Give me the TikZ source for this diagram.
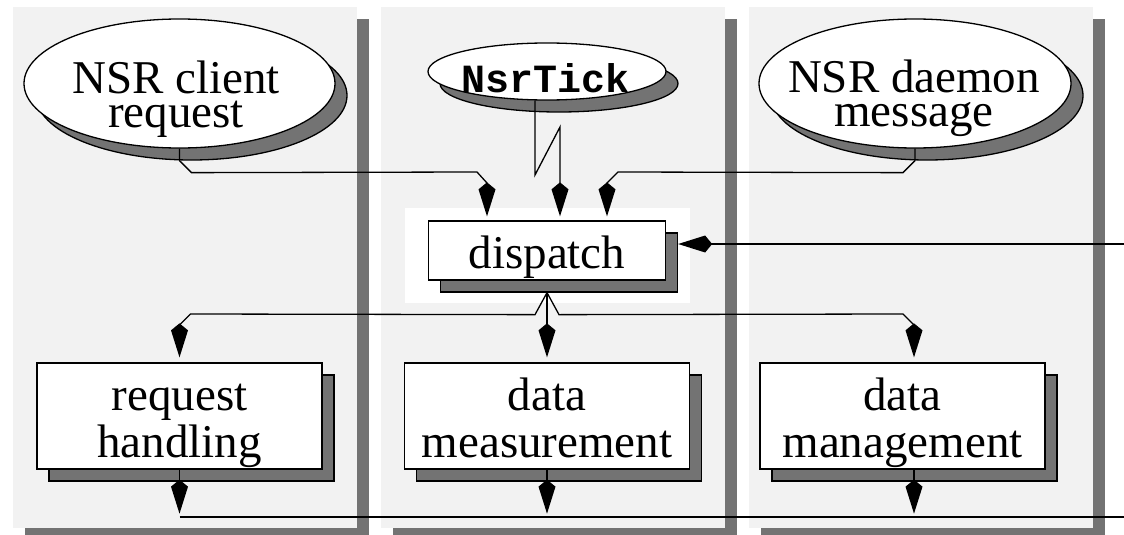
\documentclass[tikz,border=0pt]{standalone}
\usepackage{fontspec}
\setmainfont{Liberation Serif}
\newfontfamily\codefont{Liberation Mono}
\usetikzlibrary{shapes.geometric,arrows.meta,shadows}
\definecolor{panelgray}{HTML}{F2F2F2}
\definecolor{shgray}{HTML}{737373}
\pgfdeclarearrow{
  name = BigKite,
  setup code = {
    \pgfarrowssettipend{0pt}
    \pgfarrowssetbackend{-34pt}
    \pgfarrowssetlineend{-28pt}
    \pgfarrowshullpoint{0pt}{0pt}
    \pgfarrowshullpoint{-34pt}{0pt}
  },
  drawing code = {
    \pgfpathmoveto{\pgfpoint{0pt}{0pt}}
    \pgfpathlineto{\pgfpoint{-27pt}{8.5pt}}
    \pgfpathlineto{\pgfpoint{-34pt}{0pt}}
    \pgfpathlineto{\pgfpoint{-27pt}{-8.5pt}}
    \pgfpathclose
    \pgfusepathqfill
  }
}
\begin{document}
\begin{tikzpicture}[x=1pt,y=-1pt,line width=1.3pt,
  shadowed/.style={general shadow={shadow xshift=12pt,shadow yshift=-12pt,fill=shgray,draw=black,line width=1.3pt}},
  evt/.style={ellipse,draw=black,fill=white,inner sep=0pt,shadowed},
  proc/.style={rectangle,draw=black,fill=white,inner sep=0pt,minimum width=285pt,minimum height=106pt,shadowed,align=center,font=\fontsize{47}{47}\selectfont,text height=82pt,text depth=0pt},
  etext/.style={inner sep=0pt,align=center,font=\fontsize{47}{34}\selectfont},
  ticktext/.style={inner sep=0pt,font=\fontsize{40}{40}\codefont\bfseries},
  flow/.style={-BigKite,line width=1.3pt},
  wire/.style={line width=1.3pt}
]
\useasboundingbox (0,0) rectangle (1124,535);
\fill[white] (0,0) rectangle (1124,535);
% swimlane panels
\fill[shgray] (25,19) rectangle (369,540);
\fill[panelgray] (13,7) rectangle (357,528);
\fill[shgray] (393,19) rectangle (737,540);
\fill[panelgray] (381,7) rectangle (725,528);
\fill[shgray] (761,19) rectangle (1105,540);
\fill[panelgray] (749,7) rectangle (1093,528);
\fill[white] (405,208) rectangle (690,303);

% event ellipses
\node[evt,minimum width=311pt,minimum height=129pt] (e1) at (179.5,83.5) {};
\node[etext] (e1t) at (176,99) {NSR client\\request};
\node[evt,minimum width=312pt,minimum height=129pt] (e3) at (915,83.5) {};
\node[etext] (e3t) at (914,98) {NSR daemon\\message};
\node[evt,minimum width=238pt,minimum height=57pt] (tick) at (547,71.5) {};
\node[ticktext] (tickt) at (545.5,78) {NsrTick};

% processes
\node[proc,minimum width=237pt,minimum height=59pt,text height=36pt,text depth=0pt] (disp) at (547,250.5) {dispatch};
\node[proc] (rh) at (179.5,416) {request\\handling};
\node[proc] (dm) at (547,416) {data\\measurement};
\node[proc] (dmg) at (902.5,416) {data\\management};

% inputs to dispatch
\draw[flow] (e1.south) -- ++(0,12) -- ++(12,12) -- (477,172) -- ++(10,11) -- ([xshift=-60pt,yshift=4pt]disp.north);
\draw[flow] ([xshift=-12pt]tick.south) -- (535,175) -- (560,127) -- ([xshift=13pt,yshift=4pt]disp.north);
\draw[flow] (e3.south) -- ++(0,12) -- ++(-12,12) -- (618,172) -- ++(-11,11) -- ([xshift=60pt,yshift=4pt]disp.north);
\coordinate (rin) at (1124,244);
\draw[flow] (rin) -- ([xshift=12pt,yshift=6.5pt]disp.east);

% outputs of dispatch
\coordinate (apex) at ([yshift=-12pt]disp.south);
\draw[flow] (apex) -- ++(-12,22) -- (190.5,314) -- (179.5,325) -- ([yshift=5pt]rh.north);
\draw[flow] (apex) -- ([yshift=5pt]dm.north);
\draw[flow] (apex) -- ++(12,22) -- (903,314) -- (914,325) -- ([xshift=11.5pt,yshift=5pt]dmg.north);

% outputs to bus
\draw[flow] (rh.south) -- ([yshift=-44pt]rh.south);
\draw[flow] (dm.south) -- ([yshift=-44pt]dm.south);
\draw[flow] ([xshift=11.5pt]dmg.south) -- ([xshift=11.5pt,yshift=-44pt]dmg.south);
\coordinate (busL) at (179.5,517);
\coordinate (busR) at (1124,517);
\draw[wire] (busL) -- (busR);
\end{tikzpicture}
\end{document}
